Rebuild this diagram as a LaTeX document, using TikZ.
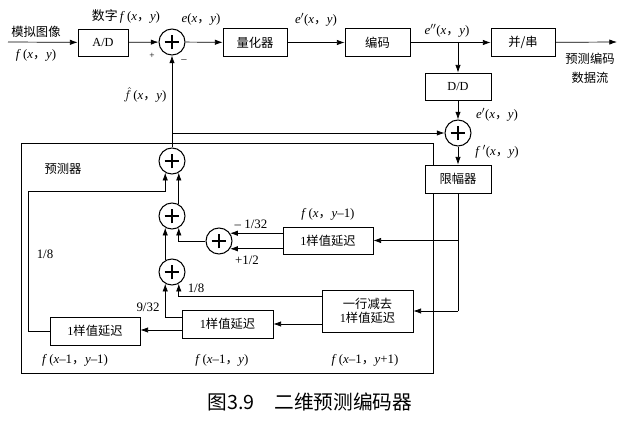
\documentclass[tikz,border=0pt]{standalone}
\usepackage{fontspec}
\setmainfont{Liberation Serif}
\newfontfamily\cjk{Noto Sans CJK SC}
\usetikzlibrary{arrows.meta,calc}
\newcommand{\iv}[1]{\textit{#1}}
\newcommand{\zc}{{\cjk ，}}
\tikzset{
  every picture/.style={line width=0.6pt},
  arr/.style={-{Latex[length=2.3mm,width=1.6mm]}},
  blk/.style={draw, fill=white, inner sep=0pt, font=\cjk\fontsize{10.5}{12}\selectfont, align=center},
  sumnode/.style={circle, draw, line width=0.9pt, minimum size=0.78cm, inner sep=0pt, fill=white,
    path picture={
      \draw[line width=0.9pt] ([xshift=-0.22cm]path picture bounding box.center) -- ([xshift=0.22cm]path picture bounding box.center);
      \draw[line width=0.9pt] ([yshift=-0.22cm]path picture bounding box.center) -- ([yshift=0.22cm]path picture bounding box.center);
    }},
  lab/.style={inner sep=0pt, font=\fontsize{11}{13}\selectfont},
  clab/.style={inner sep=0pt, font=\cjk\fontsize{10.5}{12}\selectfont},
}
\begin{document}
\begin{tikzpicture}[x=0.03cm, y=-0.03cm]
\useasboundingbox (0,0) rectangle (637,427);

% predictor frame
\draw (21,143) rectangle (433,373);

% top chain
\node[blk, minimum width=1.5cm, minimum height=0.81cm] (AD) at (103,42.5) {\rmfamily A/D};
\node[sumnode] (S0) at (172,42) {};
\node[blk, minimum width=1.92cm, minimum height=0.84cm] (QZ) at (255,42.5) {量化器};
\node[blk, minimum width=1.95cm, minimum height=0.84cm] (BM) at (377.5,42.5) {编码};
\node[blk, minimum width=1.92cm, minimum height=0.84cm] (PS) at (523,42.5) {并/串};
\node[blk, minimum width=1.98cm, minimum height=0.81cm] (DD) at (458,86.5) {\rmfamily D/D};
\node[sumnode] (S2) at (458,133) {};
\node[blk, minimum width=1.98cm, minimum height=0.84cm] (XF) at (458,179) {限幅器};

% predictor internals
\node[sumnode] (T) at (172,161) {};
\node[sumnode] (M) at (172,216) {};
\node[sumnode] (B) at (172,272) {};
\node[sumnode] (S) at (219,241) {};
\node[blk, minimum width=2.7cm, minimum height=0.81cm] (D1) at (328,240.5) {\rmfamily 1\cjk 样值延迟};
\node[blk, minimum width=2.73cm, minimum height=1.26cm] (D3) at (367.5,311) {一行减去\\ \rmfamily 1\cjk 样值延迟};
\node[blk, minimum width=2.73cm, minimum height=0.84cm] (D2) at (227.5,324) {\rmfamily 1\cjk 样值延迟};
\node[blk, minimum width=2.7cm, minimum height=0.84cm] (D0) at (95,331) {\rmfamily 1\cjk 样值延迟};

\coordinate (in) at (8,42);
\coordinate (out) at (617,42);
\coordinate (j1) at (458,42);
\coordinate (j2) at (172,133);
\coordinate (j3) at (458,240.5);
\coordinate (j4) at (458,311);

% forward path
\draw[arr] (in) -- (AD);
\draw[arr] (AD) -- (S0);
\draw[arr] (S0) -- (QZ);
\draw[arr] (QZ) -- (BM);
\draw[arr] (BM) -- (PS);
\draw[arr] (PS) -- (out);
\draw[arr] (j1) -- (DD);
\draw[arr] (DD) -- (S2);
\draw[arr] (S2) -- (XF);

% prediction feedback
\draw[arr] (T.north) -- (S0.south);
\draw[arr] (j2) -- (S2.west);
\draw (XF.south) -- (j4);
\draw[arr] (j4) -- (D3.east);
\draw[arr] (j3) -- (D1.east);

\draw[arr] (S.35 -| D1.west) -- (S.35);
\draw[arr] (S.-35 -| D1.west) -- (S.-35);
\draw[arr] (S.west) -| (M.300);
\draw[arr] (M.60) -- (T.300);
\draw[arr] (B.120) -- (M.240);
\draw[arr] (D0.west) -- (28,331) -- (28,191) -| (T.240);
\draw[arr] ($(D2.west)+(0,-7)$) -| (B.240);
\draw[arr] ($(D2.west)+(0,6)$) -- (D0.east |- {$(D2.west)+(0,6)$});
\draw[arr] ($(D3.west)+(0,-15)$) -| (B.300);
\draw[arr] ($(D3.west)+(0,13)$) -- (D2.east |- {$(D3.west)+(0,13)$});

% labels
\node[clab] (l1) at (36,32) {模拟图像};
\node[lab] (l2) at (36,55) {\iv{f}\,(\iv{x}\zc\iv{y})};
\node[lab] (l3) at (126,16) {{\cjk 数字}\,\iv{f}\,(\iv{x}\zc\iv{y})};
\node[lab, font=\fontsize{8}{9}\selectfont] (l4) at (152,56) {+};
\node[lab, font=\fontsize{9}{10}\selectfont] (l5) at (184,61) {\textendash};
\node[lab] (l6) at (201,19) {\iv{e}(\iv{x}\zc\iv{y})};
\node[lab] (l7) at (316,20) {\iv{e}$'$(\iv{x}\zc\iv{y})};
\node[lab] (l8) at (447,31) {\iv{e}$''$(\iv{x}\zc\iv{y})};
\node[clab] (l9) at (590,59) {预测编码};
\node[clab] (l10) at (590,78) {数据流};
\node[lab] (l11) at (145,95) {$\hat{f}$\,(\iv{x}\zc\iv{y})};
\node[lab] (l12) at (497,115) {\iv{e}$'$(\iv{x}\zc\iv{y})};
\node[lab] (l13) at (497,152) {\iv{f}$\,'$(\iv{x}\zc\iv{y})};
\node[clab] (l14) at (63,169) {预测器};
\node[lab] (l15) at (45,254) {1/8};
\node[lab] (l16) at (328,214) {\iv{f}\,(\iv{x}\zc\iv{y}\textendash1)};
\node[lab] (l17) at (251,224) {\textendash\ 1/32};
\node[lab] (l18) at (247,260) {+1/2};
\node[lab] (l19) at (148,307) {9/32};
\node[lab] (l20) at (196,288) {1/8};
\node[lab] (l21) at (75,360) {\iv{f}\,(\iv{x}\textendash1\zc\iv{y}\textendash1)};
\node[lab] (l22) at (222,360) {\iv{f}\,(\iv{x}\textendash1\zc\iv{y})};
\node[lab] (l23) at (365,360) {\iv{f}\,(\iv{x}\textendash1\zc\iv{y}+1)};

% caption
\node[inner sep=0pt, font=\cjk\fontsize{16.8}{19}\selectfont] (cap) at (310,402) {图3.9\quad 二维预测编码器};
\end{tikzpicture}
\end{document}
